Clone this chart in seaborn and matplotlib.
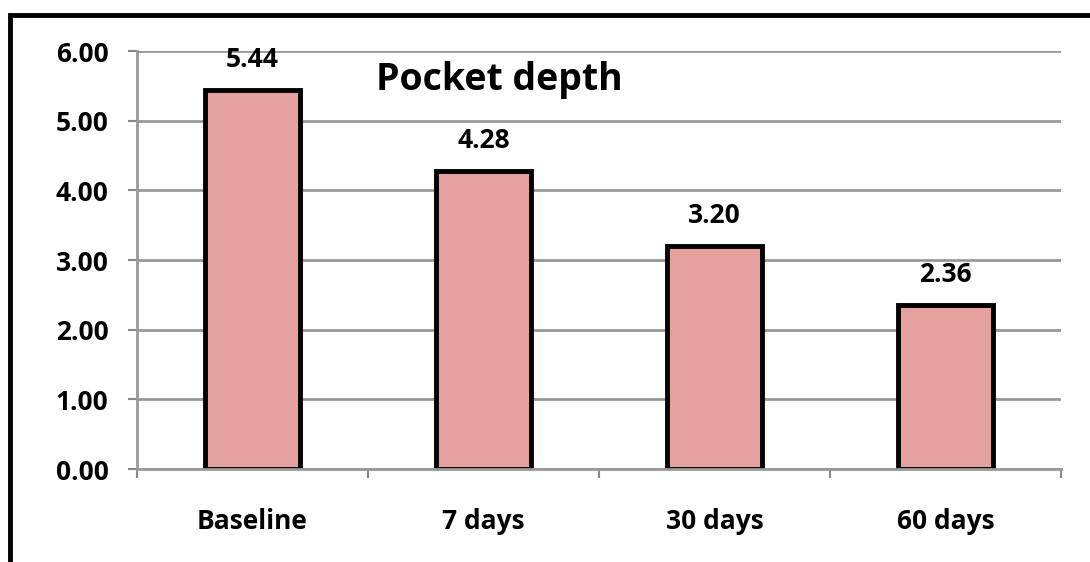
import matplotlib
matplotlib.use("Agg")
import matplotlib.pyplot as plt
import seaborn as sns
from matplotlib.patches import Rectangle
from matplotlib.ticker import FixedLocator

categories = ["Baseline", "7 days", "30 days", "60 days"]
values = [5.44, 4.28, 3.20, 2.36]
value_labels = ["5.44", "4.28", "3.20", "2.36"]
yticks = [0, 1, 2, 3, 4, 5, 6]
ytick_labels = ["0.00", "1.00", "2.00", "3.00", "4.00", "5.00", "6.00"]
title = "Pocket depth"

sns.set_theme(style="white")
plt.rcParams["font.family"] = ["Open Sans", "DejaVu Sans"]

W, H = 1090, 562
fig = plt.figure(figsize=(W / 100, H / 100), dpi=100)
ax = fig.add_axes([137 / W, 1 - 469 / H, (1061 - 137) / W, (469 - 51) / H])

sns.barplot(x=categories, y=values, color="#E5A0A0", edgecolor="black",
            linewidth=3.5, width=0.41, saturation=1, ax=ax)

ax.set_xlim(-0.5, 3.5)
ax.set_ylim(0, 6)

# grid
ax.set_axisbelow(True)
ax.yaxis.grid(True, color="#999999", linewidth=2)
ax.xaxis.grid(False)

FS = 19

# y ticks
ax.set_yticks(yticks)
ax.set_yticklabels(ytick_labels, fontsize=FS, fontweight="bold", color="black")
ax.tick_params(axis="y", which="major", left=True, length=6.5, width=1.5,
               color="#888888", pad=14, direction="out")

# x ticks: marks at category boundaries, labels at centres
ax.xaxis.set_major_locator(FixedLocator([-0.5, 0.5, 1.5, 2.5, 3.5]))
ax.set_xticklabels([""] * 5)
ax.xaxis.set_minor_locator(FixedLocator(range(len(categories))))
ax.set_xticklabels(categories, minor=True, fontsize=FS, fontweight="bold", color="black")
ax.tick_params(axis="x", which="major", bottom=True, length=6.5, width=1.5,
               color="#888888", direction="out")
ax.tick_params(axis="x", which="minor", bottom=True, length=0, pad=28)
ax.set_xlabel("")
ax.set_ylabel("")

for side in ["top", "right"]:
    ax.spines[side].set_visible(False)
for side in ["left", "bottom"]:
    ax.spines[side].set_visible(True)
    ax.spines[side].set_color("#999999")
    ax.spines[side].set_linewidth(2)

# value labels
for i, (v, lab) in enumerate(zip(values, value_labels)):
    ax.annotate(lab, (i, v), xytext=(0, 12), textcoords="offset points",
                ha="center", va="bottom", fontsize=FS, fontweight="bold", color="black")

ax.text(0.392, 0.93, title, transform=ax.transAxes, ha="center", va="center",
        fontsize=27, fontweight="bold", color="black")

# outer frame (left and top edges visible)
fig.patches.append(Rectangle((10 / W, -0.2), 1.5, (H - 15) / H + 0.2,
                             transform=fig.transFigure, fill=False,
                             edgecolor="black", linewidth=3.5))

fig.savefig("out.png", dpi=100, facecolor="white")
